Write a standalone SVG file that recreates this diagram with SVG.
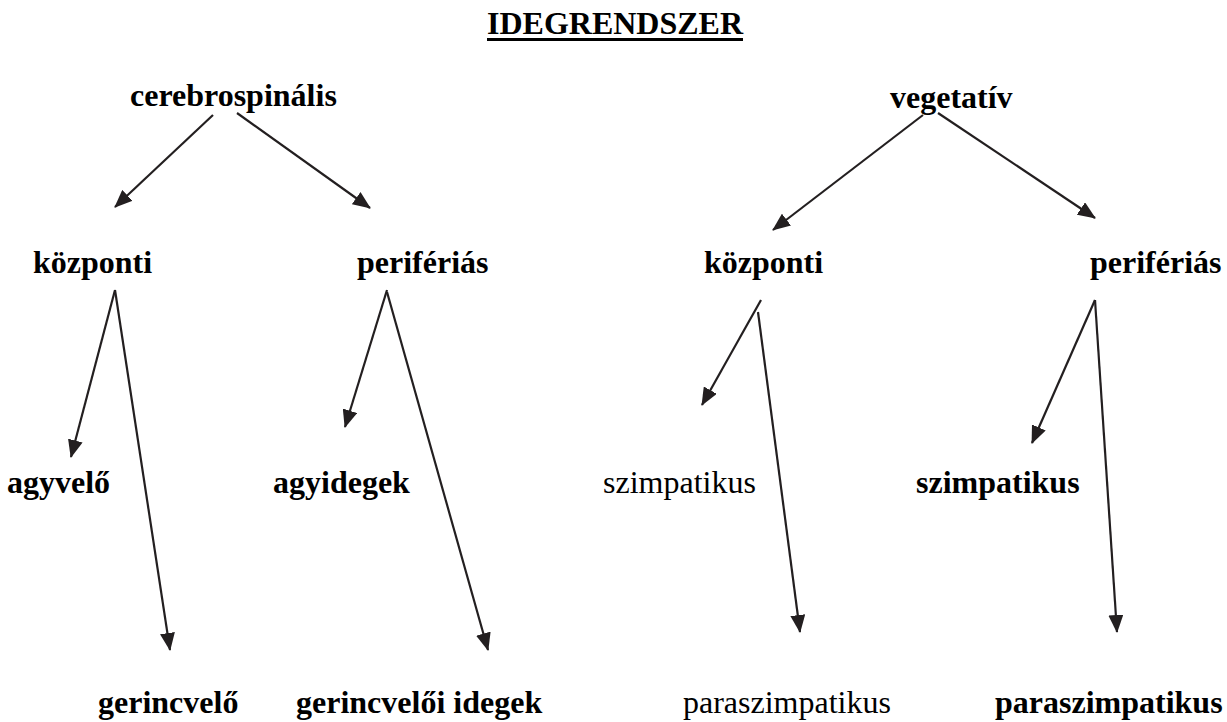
<svg xmlns="http://www.w3.org/2000/svg" width="1227" height="722" viewBox="0 0 1227 722">
<style>
.t{font-family:"Liberation Serif","Times New Roman",serif;font-size:32px;fill:#000}
.b{font-weight:bold}
.c{stroke:#231f20;stroke-width:2.2;fill:none;marker-end:url(#ah)}
</style>
<defs>
<marker id="ah" markerUnits="userSpaceOnUse" viewBox="0 0 18 15" refX="17" refY="7.5" markerWidth="18" markerHeight="15" orient="auto">
<path d="M0,0 L18,7.5 L0,15 Z" fill="#231f20"/>
</marker>
</defs>
<rect width="1227" height="722" fill="#fff"/>
<g id="title">
<text class="t b" x="487" y="34">IDEGRENDSZER</text>
<rect x="487" y="38" width="256" height="3" fill="#000"/>
</g>
<g id="n-cerebrospinalis"><text class="t b" x="130" y="106">cerebrospinális</text></g>
<g id="n-vegetativ"><text class="t b" x="890" y="108">vegetatív</text></g>
<g id="n-kozponti-1"><text class="t b" x="33" y="273">központi</text></g>
<g id="n-periferias-1"><text class="t b" x="357" y="273">perifériás</text></g>
<g id="n-kozponti-2"><text class="t b" x="704" y="273">központi</text></g>
<g id="n-periferias-2"><text class="t b" x="1090" y="273">perifériás</text></g>
<g id="n-agyvelo"><text class="t b" x="7" y="493">agyvelő</text></g>
<g id="n-agyidegek"><text class="t b" x="273" y="493">agyidegek</text></g>
<g id="n-szimpatikus-1"><text class="t" x="603" y="493">szimpatikus</text></g>
<g id="n-szimpatikus-2"><text class="t b" x="916" y="493">szimpatikus</text></g>
<g id="n-gerincvelo"><text class="t b" x="98" y="713">gerincvelő</text></g>
<g id="n-gerincveloi-idegek"><text class="t b" x="296" y="713">gerincvelői idegek</text></g>
<g id="n-paraszimpatikus-1"><text class="t" x="683" y="713">paraszimpatikus</text></g>
<g id="n-paraszimpatikus-2"><text class="t b" x="995" y="713">paraszimpatikus</text></g>
<g id="connectors">
<line class="c" x1="213" y1="115" x2="115" y2="207"/>
<line class="c" x1="237" y1="113" x2="370" y2="208"/>
<line class="c" x1="923" y1="115" x2="773" y2="230"/>
<line class="c" x1="938" y1="113" x2="1095" y2="218"/>
<line class="c" x1="115" y1="290" x2="71" y2="457"/>
<line class="c" x1="115" y1="290" x2="170" y2="650"/>
<line class="c" x1="387" y1="290" x2="345" y2="427"/>
<line class="c" x1="387" y1="292" x2="488" y2="650"/>
<line class="c" x1="761" y1="300" x2="702" y2="405"/>
<line class="c" x1="758" y1="312" x2="800" y2="632"/>
<line class="c" x1="1095" y1="300" x2="1032" y2="443"/>
<line class="c" x1="1095" y1="300" x2="1117" y2="632"/>
</g>
</svg>
